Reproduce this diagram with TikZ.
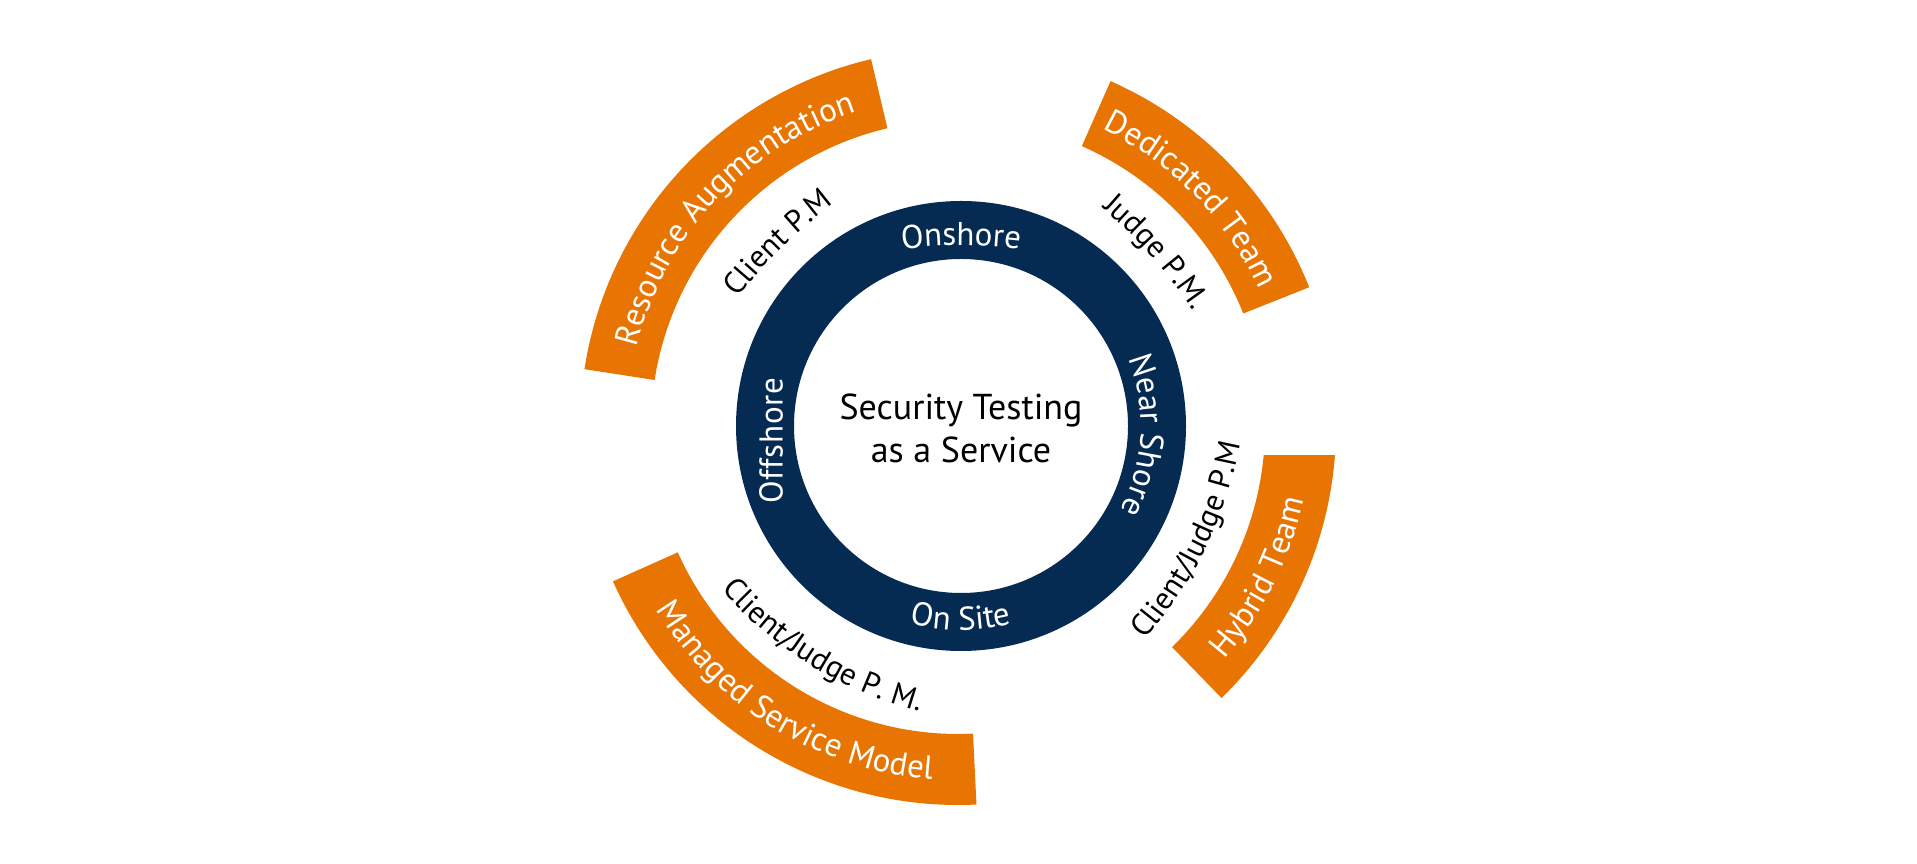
\documentclass[tikz,border=0pt]{standalone}
\usepackage{fontspec}
\setmainfont{PT Sans}
\usetikzlibrary{decorations.text,calc}
\definecolor{navy}{RGB}{6,43,82}
\definecolor{tangerine}{RGB}{232,117,2}
\newcommand\ringfont{\fontsize{33}{39}\selectfont}
\newcommand\bandfont{\fontsize{33}{39}\selectfont}
\newcommand\pmfont{\fontsize{31}{37}\selectfont}
\newcommand\titlefont{\fontsize{36}{43}\selectfont}
\tikzset{
  band/.style={fill=tangerine},
  ringlabel/.style={decorate,decoration={text along path,text align=center,text color=white,text={|\ringfont|#1}}},
  bandlabel/.style={decorate,decoration={text along path,text align=center,text color=white,text={|\bandfont|#1}}},
  pmlabel/.style={decorate,decoration={text along path,text align=center,text color=black,text={|\pmfont|#1}}},
}
\begin{document}
\begin{tikzpicture}[x=1pt,y=1pt]
\fill[white] (0,0) rectangle (1917,864);
\useasboundingbox (0,0) rectangle (1917,864);
\coordinate (O) at (958,437);
\coordinate (C) at (961,438);
% central ring
\fill[navy,even odd rule] (C) circle[radius=225] (C) circle[radius=167];
\node[font=\titlefont,anchor=base] (title1) at (961,444.7) {Security Testing};
\node[font=\titlefont,anchor=base] (title2) at (961,401.3) {as a Service};
% ring labels
\path[ringlabel=Onshore] ($(C)+(0,-319.7)+(110:500)$) arc[start angle=110,end angle=70,radius=500];
\path[ringlabel=Near Shore] ($(C)+(77:180)$) arc[start angle=77,end angle=-83,radius=180];
\path[ringlabel=On Site] ($(C)+(190:204)$) arc[start angle=190,end angle=350,radius=204];
\node[font=\ringfont\addfontfeature{LetterSpace=2},text=white,rotate=90,anchor=base,inner sep=0pt] (offshore) at ($(C)+(-178.4,-14.8)$) {Offshore};
% orange bands
\fill[band] ($(O)+(103.3:378)$) arc[start angle=103.3,end angle=171.2,radius=378] -- ($(O)+(171.2:307)$) arc[start angle=171.2,end angle=103.3,radius=307] -- cycle;
\fill[band] ($(O)+(21.7:378)$) arc[start angle=21.7,end angle=66.2,radius=378] -- ($(O)+(66.2:307)$) arc[start angle=66.2,end angle=21.7,radius=307] -- cycle;
\fill[band] ($(O)+(-45.8:378)$) arc[start angle=-45.8,end angle=-4.26,radius=378] -- ($(O)+(-5.24:307)$) arc[start angle=-5.24,end angle=-45.8,radius=307] -- cycle;
\fill[band] ($(O)+(204.1:378)$) arc[start angle=204.1,end angle=272.8,radius=378] -- ($(O)+(272.8:307)$) arc[start angle=272.8,end angle=204.1,radius=307] -- cycle;
% band labels
\path[bandlabel=Resource Augmentation] ($(O)+(217:331)$) arc[start angle=217,end angle=57,radius=331];
\path[bandlabel=Dedicated Team] ($(O)+(124.3:331)$) arc[start angle=124.3,end angle=-35.7,radius=331];
\path[bandlabel=Hybrid Team] ($(O)+(-106.5:353)$) arc[start angle=-106.5,end angle=53.5,radius=353];
\path[bandlabel=Managed Service Model] ($(O)+(158.5:353)$) arc[start angle=158.5,end angle=318.5,radius=353];
% P.M. labels
\path[pmlabel=Client P.M] ($(O)+(134.4:251)+(314.4:550)+(159.4:550)$) arc[start angle=159.4,end angle=109.4,radius=550];
\path[pmlabel=Judge P.M.] ($(O)+(41.5:258)+(221.5:500)+(71.5:500)$) arc[start angle=71.5,end angle=11.5,radius=500];
\path[pmlabel=Client/Judge P.M] ($(O)+(-26.1:276)+(153.9:400)+(-56.1:400)$) arc[start angle=-56.1,end angle=3.9,radius=400];
\path[pmlabel=Client/Judge P. M.] ($(O)+(238.4:280)+(58.4:400)+(208.4:400)$) arc[start angle=208.4,end angle=268.4,radius=400];
\end{tikzpicture}
\end{document}
